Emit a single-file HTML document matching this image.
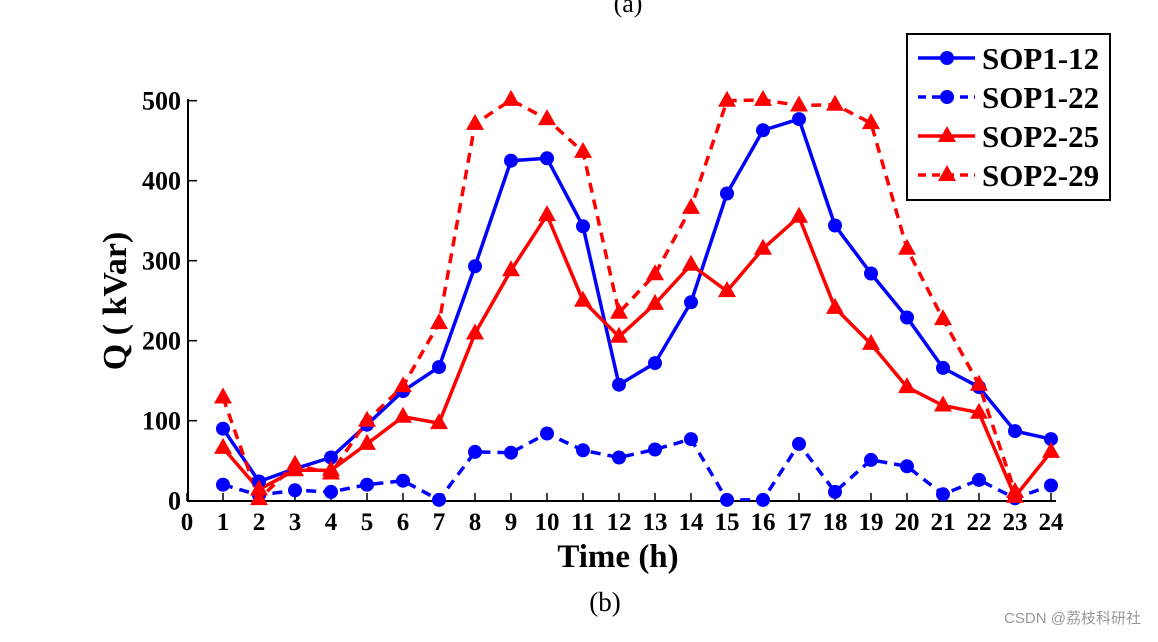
<!DOCTYPE html>
<html><head><meta charset="utf-8"><style>
body{margin:0;background:#fff;width:1158px;height:637px;overflow:hidden}
svg text{font-family:"Liberation Serif",serif}
</style></head><body>
<svg id="chart" width="1158" height="637" viewBox="0 0 1158 637">
<defs><clipPath id="pc"><rect x="187" y="60" width="880" height="441"/></clipPath></defs>
<text x="628" y="12" font-size="26" text-anchor="middle">(a)</text>
<g id="axes"></g>
<g id="series" clip-path="url(#pc)"></g>
<g id="markers"></g>
<text x="618" y="567" font-size="33" font-weight="bold" text-anchor="middle">Time (h)</text>
<text transform="translate(126,301) rotate(-90)" font-size="34" font-weight="bold" text-anchor="middle">Q ( kVar)</text>
<text x="605" y="611" font-size="27" text-anchor="middle">(b)</text>
<text x="1141" y="623" font-size="15" fill="#999" text-anchor="end" style="font-family:'Liberation Sans','Noto Sans CJK SC',sans-serif">CSDN @荔枝科研社</text>
<g id="legend"></g>
</svg>
<script>
const hours=[1,2,3,4,5,6,7,8,9,10,11,12,13,14,15,16,17,18,19,20,21,22,23,24];
const sop1_12=[90,24,40,54,95,137,167,293,425,428,343,145,172,248,384,463,477,344,284,229,166,142,87,77];
const sop1_22=[20,7,13,11,20,25,1,61,60,84,63,54,64,77,1,1,71,11,51,43,8,26,3,19];
const sop2_25=[66,14,38,38,71,105,97,209,288,357,250,205,246,295,262,315,355,241,196,142,119,110,5,61];
const sop2_29=[129,2,45,34,100,143,222,471,501,477,436,235,283,366,500,501,494,495,472,315,227,145,11,-40];
const xTicks=[0,1,2,3,4,5,6,7,8,9,10,11,12,13,14,15,16,17,18,19,20,21,22,23,24];
const yTicks=[0,100,200,300,400,500];
const seriesNames=["SOP1-12","SOP1-22","SOP2-25","SOP2-29"];
const NS="http://www.w3.org/2000/svg";
const X=v=>187+v*36, Y=v=>500.7-v*0.8;
function mk(t,a,p){const e=document.createElementNS(NS,t);for(const k in a)e.setAttribute(k,a[k]);p.appendChild(e);return e;}
const ax=document.getElementById('axes');
const yl=mk('line',{x1:188,y1:99,x2:188,y2:501,stroke:'#000','stroke-width':2},ax);


const xl=mk('line',{x1:187,y1:501,x2:1056,y2:501,stroke:'#000','stroke-width':2},ax);


yTicks.forEach(v=>{mk('line',{x1:188,y1:Y(v),x2:197,y2:Y(v),stroke:'#000','stroke-width':1.5},ax);
const t=mk('text',{x:181,y:Y(v)+9,'font-size':26,'font-weight':'bold','text-anchor':'end'},ax);t.textContent=v;

});
xTicks.forEach(v=>{mk('line',{x1:X(v),y1:501,x2:X(v),y2:493,stroke:'#000','stroke-width':1.5},ax);
const t=mk('text',{x:X(v),y:530,'font-size':25,'font-weight':'bold','text-anchor':'middle'},ax);t.textContent=v;

});
const sg=document.getElementById('series'), mg=document.getElementById('markers');
const defs=[[sop1_12,'#0000ff','','circle'],[sop1_22,'#0000ff','10,7','circle'],[sop2_25,'#ff0000','','tri'],[sop2_29,'#ff0000','10,7','tri']];
function marker(shape,x,y,c,p){if(shape==='circle')return mk('circle',{cx:x,cy:y,r:7,fill:c},p);
return mk('polygon',{points:`${x},${y-10} ${x-9},${y+6} ${x+9},${y+6}`,fill:c},p);}
defs.forEach((d,i)=>{const pts=d[0].map((v,j)=>X(hours[j])+','+Y(v)).join(' ');
const pl=mk('polyline',{points:pts,fill:'none',stroke:d[1],'stroke-width':3.5,'stroke-dasharray':d[2]},sg);


d[0].forEach((v,j)=>{if(v<0)return;const m=marker(d[3],X(hours[j]),Y(v),d[1],mg);

});});
const lg=document.getElementById('legend');
mk('rect',{x:907,y:34,width:203,height:166,fill:'#fff',stroke:'#000','stroke-width':2},lg);
defs.forEach((d,i)=>{const y=58+i*39;
mk('line',{x1:918,y1:y,x2:975,y2:y,stroke:d[1],'stroke-width':3.5,'stroke-dasharray':d[2]?'8,6':''},lg);
marker(d[3],947,y,d[1],lg);
const t=mk('text',{x:982,y:y+11,'font-size':31,'font-weight':'bold'},lg);t.textContent=seriesNames[i];

});
</script>
</body></html>
